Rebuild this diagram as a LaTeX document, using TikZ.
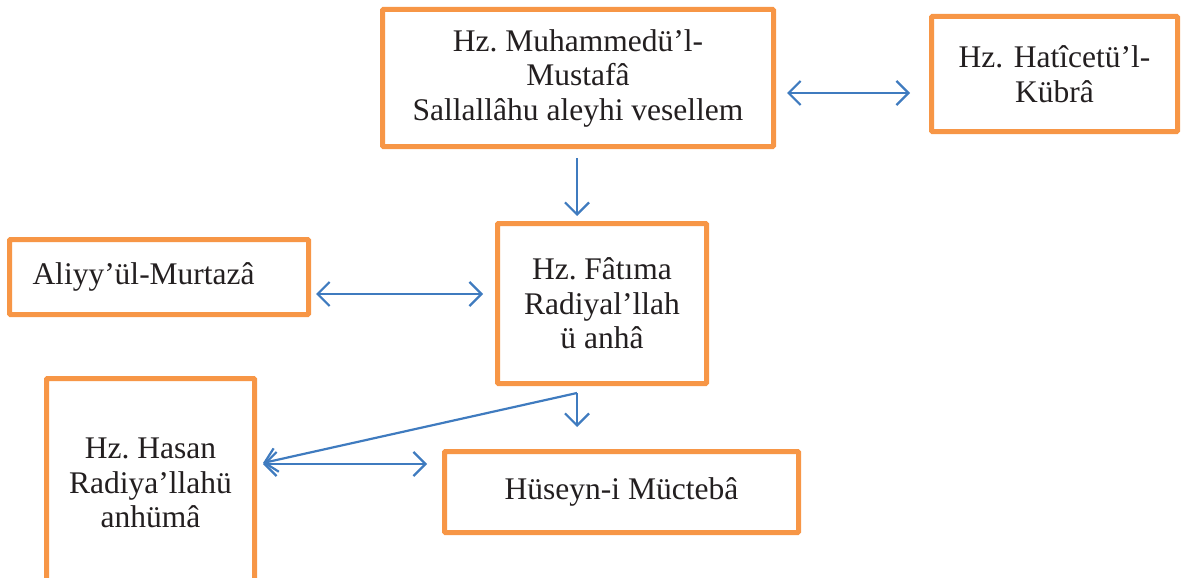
\documentclass[tikz,border=0pt]{standalone}
\usepackage{fontspec}
\setmainfont{Liberation Serif}
\usetikzlibrary{arrows.meta}
\usetikzlibrary{calc}
\usetikzlibrary{positioning}
\definecolor{boxorange}{HTML}{F79646}
\definecolor{linkblue}{HTML}{3F7BBF}
\definecolor{inkgray}{HTML}{231F20}
\frenchspacing

\begin{document}
\begin{tikzpicture}[x=1pt,y=-1pt,
  person/.style={draw=boxorange,line width=5pt,rounded corners=1pt,fill=white,
    inner sep=0pt,align=center,text=inkgray,
    font=\fontsize{31.5}{34.5}\selectfont},
  link/.style={draw=linkblue,line width=2.2pt,
    {Straight Barb[length=12pt,width=24pt]}-{Straight Barb[length=12pt,width=24pt]}},
  linkto/.style={draw=linkblue,line width=2.2pt,
    -{Straight Barb[length=12pt,width=24pt]}}]

  \useasboundingbox (0,0) rectangle (1181,578);

  % top row
  \node[person,minimum width=391pt,minimum height=137pt] (muh) at (578,78)
    {Hz. Muhammedü’l-\\Mustafâ\\Sallallâhu aleyhi vesellem};
  \node[person,minimum width=246pt,minimum height=115pt,text width=205pt] (hat)
    at (1054.5,74) {Hz. Hatîcetü’l-\\Kübrâ};

  % middle row
  \node[person,minimum width=209pt,minimum height=160pt] (fat) at (602,303.5)
    {Hz. Fâtıma\\Radiyal’llah\\ü anhâ};
  \node[person,minimum width=299pt,minimum height=75pt,text width=253pt,
    align=left] (ali) at (159,277) {Aliyy’ül-Murtazâ};

  % children
  \node[person,minimum width=208pt,minimum height=209pt] (has) at (150.5,483)
    {Hz. Hasan\\Radiya’llahü\\anhümâ};
  \node[person,minimum width=354pt,minimum height=81pt] (hus) at (621.5,492)
    {Hüseyn-i Müctebâ};

  %links
  \draw[link] ($(muh.east)+(11,15)$) -- ($(hat.west)+(-19,19)$);
  \draw[linkto] ($(muh.south)+(-1,9)$) -- ($(muh.south |- fat.north)+(-1,-5)$);
  \draw[link] ($(ali.east)+(5,17)$) -- ($(fat.west)+(-12,-9.5)$);
  \coordinate (fork) at ($(fat.south)+(-25,7)$);
  \draw[linkto] (fork) -- ($(hus.north)+(-44.5,-22)$);
  \draw[linkto] (fork) -- ($(has.east)+(6,-20)$);
  \draw[link] ($(has.east)+(6,-19)$) -- ($(hus.west)+(-15,-28)$);

\end{tikzpicture}
\end{document}
